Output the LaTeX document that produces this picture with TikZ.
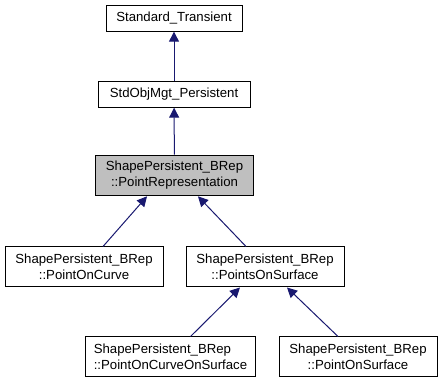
\documentclass[tikz,border=0pt]{standalone}
\usepackage{fontspec}
\setmainfont{Liberation Sans}
\usetikzlibrary{arrows.meta, positioning}

\definecolor{edgeblue}{HTML}{191970}
\definecolor{curgray}{HTML}{BFBFBF}

\begin{document}
\begin{tikzpicture}[x=0.75pt, y=-0.75pt, >={Triangle[length=7.5pt,width=7.5pt]},
  cls/.style={draw, line width=0.75pt, inner sep=0pt, minimum height=19pt,
    align=center, font=\fontsize{9.9}{12}\selectfont},
  cur/.style={cls, fill=curgray, minimum height=30.5pt},
  two/.style={cls, minimum height=30pt},
  inherit/.style={edgeblue, line width=0.75pt, ->}]
  \useasboundingbox (0,0) rectangle (443,384);
  % Base classes
  \node[cls, minimum width=102pt] (std) at (174,18.5) {Standard\_Transient};
  \node[cls, minimum width=114pt] (objmgt) at (174,94.5) {StdObjMgt\_Persistent};
  % Current class
  \node[cur, minimum width=118pt] (pointrep) at (174.5,175.5)
    {ShapePersistent\_BRep\\::PointRepresentation};
  % Derived classes
  \node[two, minimum width=118.5pt] (curve) at (84,267)
    {ShapePersistent\_BRep\\::PointOnCurve};
  \node[two, minimum width=118.5pt] (surf) at (265,267)
    {ShapePersistent\_BRep\\::PointsOnSurface};
  \node[two, minimum width=128pt, align=left] (cos) at (170.5,357)
    {ShapePersistent\_BRep\\::PointOnCurveOnSurface};
  \node[two, minimum width=118.5pt] (pos) at (358,357)
    {ShapePersistent\_BRep\\::PointOnSurface};
  % Inheritance edges
  \draw[inherit] (objmgt) -- (std);
  \draw[inherit] (pointrep) -- (objmgt);
  \draw[inherit] ([xshift=14.25pt]curve.north) -- ([xshift=-20.6pt]pointrep.south);
  \draw[inherit] ([xshift=-14.25pt]surf.north) -- ([xshift=17.6pt]pointrep.south);
  \draw[inherit] ([xshift=15pt]cos.north) -- ([xshift=-18.75pt]surf.south);
  \draw[inherit] ([xshift=-15pt]pos.north) -- ([xshift=16.5pt]surf.south);
\end{tikzpicture}
\end{document}
